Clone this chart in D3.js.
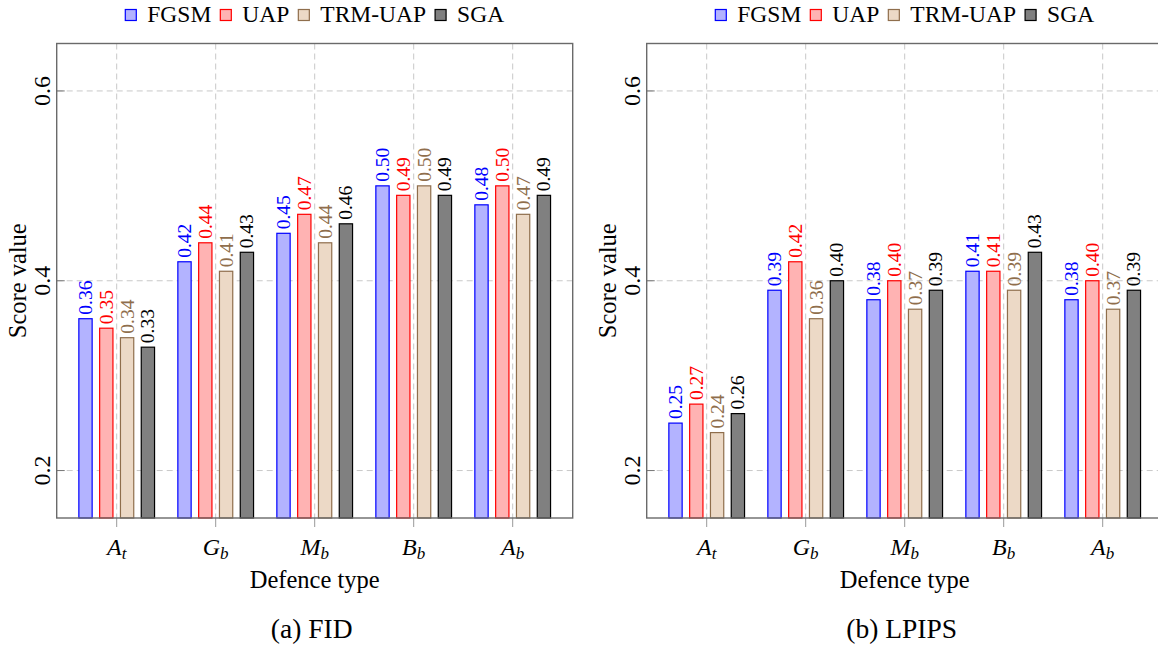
<!DOCTYPE html>
<html>
<head>
<meta charset="utf-8">
<script src="https://cdn.jsdelivr.net/npm/d3@7"></script>
<style>
  html, body { margin: 0; padding: 0; background: #fff; }
  svg { display: block; }
  svg text { font-family: "Liberation Serif", "DejaVu Serif", serif; }
</style>
</head>
<body>
<svg id="chart"></svg>
<script>
// data
var series = ['FGSM', 'UAP', 'TRM-UAP', 'SGA'];
var catMain = ['A', 'G', 'M', 'B', 'A'];
var catSub = ['t', 'b', 'b', 'b', 'b'];
var yTicks = [0.2, 0.4, 0.6];

// FID panel, one array per series (A_t, G_b, M_b, B_b, A_b)
var fidFgsm = [0.36, 0.42, 0.45, 0.50, 0.48];
var fidUap = [0.35, 0.44, 0.47, 0.49, 0.50];
var fidTrm = [0.34, 0.41, 0.44, 0.50, 0.47];
var fidSga = [0.33, 0.43, 0.46, 0.49, 0.49];

// LPIPS panel
var lpFgsm = [0.25, 0.39, 0.38, 0.41, 0.38];
var lpUap = [0.27, 0.42, 0.40, 0.41, 0.40];
var lpTrm = [0.24, 0.36, 0.37, 0.39, 0.37];
var lpSga = [0.26, 0.40, 0.39, 0.43, 0.39];

// styles
var fills = ['#b3b3ff', '#ffb3b3', '#ecd9c6', '#808080'];
var strokes = ['#0000ff', '#ff0000', '#8f6e4c', '#000000'];

var width = 1158;
var height = 645;
var frameW = 516;
var frameTop = 43.5;
var frameBottom = 518;

var svg = d3.select('#chart')
  .attr('width', width)
  .attr('height', height);

var y = d3.scaleLinear().domain([0.15, 0.65]).range([frameBottom, frameTop]);

var panels = [
  {x0: 56.7, caption: '(a) FID', values: [fidFgsm, fidUap, fidTrm, fidSga]},
  {x0: 646.7, caption: '(b) LPIPS', values: [lpFgsm, lpUap, lpTrm, lpSga]}
];

panels.forEach(function(p) {
  var g = svg.append('g').attr('transform', 'translate(' + p.x0 + ',0)');

  var x = d3.scalePoint().domain(d3.range(catMain.length)).range([60, frameW - 60]);
  var xs = d3.scaleBand().domain(series).range([-37.85, 37.85]).paddingInner(0.361);

  // grid
  g.append('g').selectAll('line')
    .data(d3.range(catMain.length))
    .enter().append('line')
      .attr('x1', function(d) { return x(d); })
      .attr('x2', function(d) { return x(d); })
      .attr('y1', frameTop)
      .attr('y2', frameBottom)
      .attr('stroke', '#c8c8c8')
      .attr('stroke-dasharray', '6,4');
  g.append('g').selectAll('line')
    .data(yTicks)
    .enter().append('line')
      .attr('x1', 0)
      .attr('x2', frameW)
      .attr('y1', function(d) { return y(d); })
      .attr('y2', function(d) { return y(d); })
      .attr('stroke', '#c8c8c8')
      .attr('stroke-dasharray', '6,4');

  // bars + value labels
  series.forEach(function(s, si) {
    var sg = g.append('g');
    sg.selectAll('rect')
      .data(p.values[si])
      .enter().append('rect')
        .attr('x', function(d, i) { return x(i) + xs(s); })
        .attr('y', function(d) { return y(d); })
        .attr('width', xs.bandwidth())
        .attr('height', function(d) { return y(0.15) - y(d); })
        .attr('fill', fills[si])
        .attr('stroke', strokes[si])
        .attr('stroke-width', 1.2);
    sg.selectAll('text')
      .data(p.values[si])
      .enter().append('text')
        .attr('transform', function(d, i) {
          return 'translate(' + (x(i) + xs(s) + xs.bandwidth() / 2) + ',' + (y(d) - 4) + ') rotate(-90)';
        })
        .attr('dy', '0.33em')
        .attr('font-size', 19.5)
        .attr('fill', strokes[si])
        .text(function(d) { return d3.format('.2f')(d); });
  });

  // y ticks
  var yt = g.append('g').selectAll('g')
    .data(yTicks)
    .enter().append('g');
  yt.append('line')
    .attr('x1', 0).attr('x2', 8)
    .attr('y1', function(d) { return y(d); })
    .attr('y2', function(d) { return y(d); })
    .attr('stroke', '#777');
  yt.append('text')
    .attr('transform', function(d) { return 'translate(-6.7,' + y(d) + ') rotate(-90)'; })
    .attr('text-anchor', 'middle')
    .attr('font-size', 24)
    .text(function(d) { return d3.format('.1f')(d); });

  // x ticks
  var xt = g.append('g').selectAll('g')
    .data(d3.range(catMain.length))
    .enter().append('g');
  xt.append('line')
    .attr('x1', function(d) { return x(d); })
    .attr('x2', function(d) { return x(d); })
    .attr('y1', frameBottom)
    .attr('y2', frameBottom + 9)
    .attr('stroke', '#999');
  var lab = xt.append('text')
    .attr('x', function(d) { return x(d); })
    .attr('y', 555)
    .attr('text-anchor', 'middle')
    .attr('font-style', 'italic')
    .attr('font-size', 24);
  lab.append('tspan').text(function(d) { return catMain[d]; });
  lab.append('tspan')
    .attr('font-size', 17)
    .attr('dy', 4)
    .text(function(d) { return catSub[d]; });

  // frame
  g.append('rect')
    .attr('x', 0).attr('y', frameTop)
    .attr('width', frameW).attr('height', frameBottom - frameTop)
    .attr('fill', 'none')
    .attr('stroke', '#6a6a6a')
    .attr('stroke-width', 1.4);

  // axis titles
  g.append('text')
    .attr('transform', 'translate(-31,' + ((frameTop + frameBottom) / 2) + ') rotate(-90)')
    .attr('text-anchor', 'middle')
    .attr('font-size', 24.5)
    .text('Score value');
  g.append('text')
    .attr('x', frameW / 2)
    .attr('y', 588)
    .attr('text-anchor', 'middle')
    .attr('font-size', 24.5)
    .text('Defence type');
  g.append('text')
    .attr('x', frameW / 2 - 3)
    .attr('y', 638)
    .attr('text-anchor', 'middle')
    .attr('font-size', 27.5)
    .text(p.caption);

  // legend, centred over the frame
  var leg = g.append('g');
  var cx = 0;
  series.forEach(function(s, si) {
    leg.append('rect')
      .attr('x', cx).attr('y', 9.5)
      .attr('width', 11).attr('height', 11)
      .attr('fill', fills[si])
      .attr('stroke', strokes[si])
      .attr('stroke-width', 1.2);
    cx += 22;
    var t = leg.append('text')
      .attr('x', cx).attr('y', 22)
      .attr('font-size', 23.5)
      .text(s);
    cx += t.node().getComputedTextLength() + 9;
  });
  cx -= 9;
  leg.attr('transform', 'translate(' + (frameW / 2 - cx / 2) + ',0)');
});
</script>
</body>
</html>
